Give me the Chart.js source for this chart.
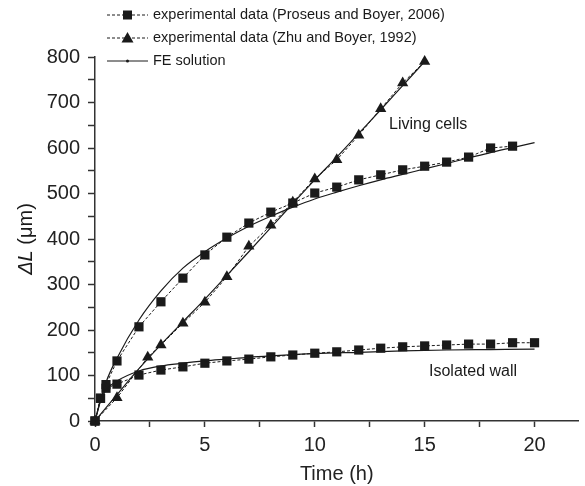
<!DOCTYPE html>
<html>
<head>
<meta charset="utf-8">
<script src="https://cdn.jsdelivr.net/npm/chart.js@4.4.1/dist/chart.umd.min.js"></script>
<style>
  html, body { margin: 0; padding: 0; background: #fff; }
  #wrap { width: 585px; height: 486px; }
</style>
</head>
<body>
<div id="wrap"><canvas id="lineChart"></canvas></div>
<script>
// experimental data (Proseus and Boyer, 2006) - living cells
var timeLiving = [0, 0.25, 0.5, 1, 2, 3, 4, 5, 6, 7, 8, 9, 10, 11, 12, 13, 14, 15, 16, 17, 18, 19];
var proseusLiving = [0, 50, 80, 132, 207, 262, 314, 365, 404, 435, 459, 479, 501, 514, 530, 541, 552, 560, 569, 580, 600, 604];

// experimental data (Proseus and Boyer, 2006) - isolated wall
var timeWall = [0, 0.25, 0.5, 1, 2, 3, 4, 5, 6, 7, 8, 9, 10, 11, 12, 13, 14, 15, 16, 17, 18, 19, 20];
var proseusWall = [0, 50, 72, 81, 101, 112, 119, 127, 132, 136, 141, 145, 149, 152, 156, 160, 163, 165, 167, 169, 169, 172, 172];

// experimental data (Zhu and Boyer, 1992)
var timeZhu = [0, 1, 2.4, 3, 4, 5, 6, 7, 8, 9, 10, 11, 12, 13, 14, 15];
var zhu = [0, 51, 140, 167, 215, 261, 317, 384, 430, 481, 532, 574, 628, 686, 743, 790];

// FE solutions
var timeFeLiving = [0, 0.5, 1, 2, 3, 4, 5, 6, 7, 8, 9, 10, 11, 12, 13, 14, 15, 16, 17, 18, 19, 20];
var feLiving = [0, 85, 138, 222, 286, 336, 372, 402, 428, 450, 470, 488, 503, 517, 530, 542, 554, 566, 578, 590, 601, 612];
var timeFeWall = [0, 0.25, 0.5, 1, 2, 3, 4, 5, 6, 7, 8, 10, 12, 14, 16, 18, 20];
var feWall = [0, 45, 68, 88, 110, 121, 127, 132, 136, 140, 143, 148, 151, 154, 156, 157, 158];
var timeFeZhu = [0, 1, 2, 3, 4, 5, 6, 7, 8, 9, 10, 11, 12, 13, 14, 15];
var feZhu = [0, 58, 115, 168, 218, 268, 320, 372, 425, 478, 530, 580, 632, 684, 737, 790];

var legendLabels = ['experimental data (Proseus and Boyer, 2006)', 'experimental data (Zhu and Boyer, 1992)', 'FE solution'];
var xTickLabels = [0, 5, 10, 15, 20];
var yTickLabels = [0, 100, 200, 300, 400, 500, 600, 700, 800];

var ink = '#1a1a1a';
var fontFamily = '"Liberation Sans", Arial, sans-serif';

function pairs(xs, ys) {
  return xs.map(function (x, i) { return { x: x, y: ys[i] }; });
}

function expSet(label, xs, ys, style, r) {
  return {
    label: label,
    data: pairs(xs, ys),
    borderColor: ink,
    backgroundColor: ink,
    borderWidth: 1,
    borderDash: [3, 2],
    pointStyle: style,
    pointRadius: r,
    pointHoverRadius: r,
    pointBorderWidth: 0,
    tension: 0,
    clip: false
  };
}

function feSet(xs, ys) {
  return {
    label: 'FE solution',
    data: pairs(xs, ys),
    borderColor: ink,
    borderWidth: 1.2,
    pointRadius: 0,
    cubicInterpolationMode: 'monotone',
    clip: false
  };
}

// legend, y title and the two labels inside the plot
var extras = {
  id: 'extras',
  afterDraw: function (chart) {
    var ctx = chart.ctx;
    ctx.save();
    ctx.fillStyle = ink;
    ctx.strokeStyle = ink;

    var rows = [15, 38, 61];
    var x0 = 107, x1 = 148, xm = 127.5;
    rows.forEach(function (y, i) {
      ctx.lineWidth = 1;
      ctx.setLineDash(i < 2 ? [3, 2] : []);
      ctx.beginPath();
      ctx.moveTo(x0, y);
      ctx.lineTo(x1, y);
      ctx.stroke();
      ctx.setLineDash([]);
      if (i === 0) {
        ctx.fillRect(xm - 4.5, y - 4.5, 9, 9);
      } else if (i === 1) {
        ctx.beginPath();
        ctx.moveTo(xm, y - 6);
        ctx.lineTo(xm + 6, y + 4.5);
        ctx.lineTo(xm - 6, y + 4.5);
        ctx.closePath();
        ctx.fill();
      } else {
        ctx.beginPath();
        ctx.arc(xm, y, 1.5, 0, Math.PI * 2);
        ctx.fill();
      }
      ctx.font = '14.5px ' + fontFamily;
      ctx.textBaseline = 'middle';
      ctx.textAlign = 'left';
      ctx.fillText(legendLabels[i], 153, y);
    });

    ctx.font = '16px ' + fontFamily;
    ctx.textAlign = 'left';
    ctx.fillText('Living cells', 389, 125);
    ctx.fillText('Isolated wall', 429, 372);

    // y axis title: italic ΔL, upright (μm)
    ctx.translate(26, 239);
    ctx.rotate(-Math.PI / 2);
    ctx.textBaseline = 'middle';
    var a = 'ΔL';
    ctx.font = 'italic 20px ' + fontFamily;
    var wa = ctx.measureText(a).width;
    ctx.font = '20px ' + fontFamily;
    var b = ' (μm)';
    var wb = ctx.measureText(b).width;
    var start = -(wa + wb) / 2;
    ctx.font = 'italic 20px ' + fontFamily;
    ctx.fillText(a, start, 0);
    ctx.font = '20px ' + fontFamily;
    ctx.fillText(b, start + wa, 0);
    ctx.restore();
  }
};

var lineChartCanvas = document.getElementById('lineChart').getContext('2d');

new Chart(lineChartCanvas, {
  type: 'line',
  data: {
    datasets: [
      feSet(timeFeLiving, feLiving),
      feSet(timeFeWall, feWall),
      feSet(timeFeZhu, feZhu),
      expSet(legendLabels[0], timeLiving, proseusLiving, 'rect', 6.5),
      expSet(legendLabels[0], timeWall, proseusWall, 'rect', 6.5),
      expSet(legendLabels[1], timeZhu, zhu, 'triangle', 6.5)
    ]
  },
  options: {
    responsive: true,
    maintainAspectRatio: false,
    animation: false,
    layout: { padding: { top: 57, right: 4, left: 0, bottom: 0 } },
    plugins: {
      legend: { display: false },
      tooltip: { enabled: false }
    },
    scales: {
      x: {
        type: 'linear',
        min: 0,
        max: 22,
        afterFit: function (scale) { scale.height = 65; },
        afterBuildTicks: function (scale) {
          scale.ticks = [0, 2.5, 5, 7.5, 10, 12.5, 15, 17.5, 20].map(function (v) { return { value: v }; });
        },
        ticks: {
          color: '#222',
          font: { size: 20, family: fontFamily },
          padding: 6,
          maxRotation: 0,
          autoSkip: false,
          callback: function (v) { return xTickLabels.indexOf(v) >= 0 ? String(v) : ''; }
        },
        grid: { drawOnChartArea: false, drawTicks: true, tickLength: 6, tickColor: '#333', tickWidth: 1.5 },
        border: { display: true, color: '#333', width: 1.5 },
        title: {
          display: true,
          text: 'Time (h)',
          color: '#222',
          font: { size: 20, family: fontFamily },
          padding: { top: 0, bottom: 0 }
        }
      },
      y: {
        type: 'linear',
        min: 0,
        max: 800,
        afterFit: function (scale) { scale.width = 95; },
        ticks: {
          stepSize: 50,
          color: '#222',
          font: { size: 20, family: fontFamily },
          padding: 8,
          autoSkip: false,
          callback: function (v) { return yTickLabels.indexOf(v) >= 0 ? String(v) : ''; }
        },
        grid: { drawOnChartArea: false, drawTicks: true, tickLength: 7, tickColor: '#333', tickWidth: 1.5 },
        border: { display: true, color: '#333', width: 1.5 },
        title: { display: false }
      }
    }
  },
  plugins: [extras]
});
</script>
</body>
</html>
